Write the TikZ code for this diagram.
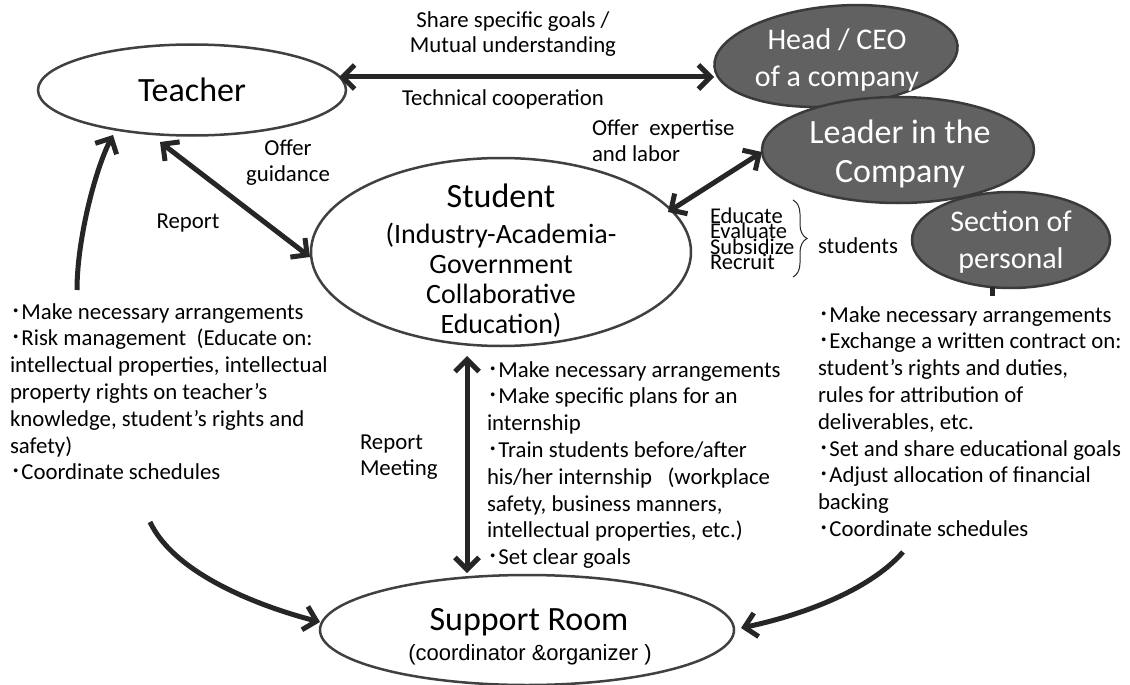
\documentclass[tikz,border=0pt]{standalone}
\usepackage{fontspec}
\setmainfont{Carlito}
\newfontfamily\arialf{Liberation Sans}
\newfontfamily\cjk{Noto Sans CJK JP}
\usetikzlibrary{shapes.geometric,arrows.meta,calc,decorations.pathreplacing}
\definecolor{arrowc}{HTML}{262626}
\definecolor{edgec}{HTML}{404040}
\definecolor{darkfill}{HTML}{616161}
\definecolor{darkedge}{HTML}{3A3A3A}
\newcommand\bul{{\cjk ･}}
\newcommand\tightls{\lineskiplimit -50pt\relax}
\begin{document}
\begin{tikzpicture}[x=1pt,y=-1pt,
  every node/.style={inner sep=0pt, outer sep=0pt},
  wellipse/.style={ellipse, draw=edgec, line width=2.5pt, fill=white},
  dellipse/.style={ellipse, draw=darkedge, line width=2.5pt, fill=darkfill},
  conn/.style={draw=arrowc, line width=5pt, {Straight Barb[length=12pt,width=24pt]}-{Straight Barb[length=12pt,width=24pt]}},
  oneway/.style={draw=arrowc, line width=5pt, -{Straight Barb[length=12pt,width=24pt]}},
  body/.style={font=\fontsize{22.8}{26.8}\selectfont, align=left, anchor=base west},
  lab/.style={font=\fontsize{22.8}{26.8}\selectfont},
  bigtext/.style={font=\fontsize{34}{40}\selectfont},
  dtext/.style={font=\fontsize{30}{37}\selectfont, text=white, align=center, anchor=base},
]
\useasboundingbox (0,0) rectangle (1130,685);

% white ellipses
\node[wellipse, minimum width=308pt, minimum height=91pt] (teacher) at (192,90) {};
\node[bigtext, anchor=base] (teachert) at (192,102) {Teacher};

\node[wellipse, minimum width=380pt, minimum height=188pt] (student) at (501,252) {};
\node[bigtext, anchor=base] (studentt) at (501,207) {Student};
\node[font=\fontsize{28}{30}\selectfont, align=center, anchor=base] (studentsub) at (501,333)
  {(Industry-Academia-\\Government\\Collaborative\\Education)};

\node[wellipse, minimum width=414pt, minimum height=110pt] (support) at (527,630) {};
\node[bigtext, anchor=base] (supportt) at (529,630) {Support Room};
\node[font=\arialf\fontsize{22}{26}\selectfont, anchor=base] (supports) at (530,660) {(coordinator \&organizer )};

% dark ellipses
\node[dellipse, minimum width=244pt, minimum height=100pt, rotate=5] (ceo) at (836,56) {};
\node[dtext] (ceot) at (837,87) {Head / CEO\\of a company};
\node[dellipse, minimum width=272pt, minimum height=106pt] (leader) at (898,150) {};
\node[dtext, font=\fontsize{34}{39}\selectfont] (leadert) at (900,182) {Leader in the\\Company};
\node[dellipse, minimum width=198pt, minimum height=96pt] (section) at (1011,240) {};
\node[dtext] (sectiont) at (1011,268) {Section of\\personal};

% labels
\node[lab, font=\fontsize{22.8}{25}\selectfont, align=center, anchor=base] (share) at (513,53) {Share specific goals /\\Mutual understanding};
\node[lab, anchor=base] (tech) at (503,105) {Technical cooperation};
\node[lab, align=left, anchor=base west] (offerexp) at (592,161.8) {Offer\ \ expertise\\and labor};
\node[lab, align=center, anchor=base] (offerg) at (288,181.8) {Offer\\guidance};
\node[lab, anchor=base] (report) at (188,228) {Report};
\node[lab, align=left, anchor=base west] (repmeet) at (360,475.8) {Report\\Meeting};
\node[font={\fontsize{22.5}{15.5}\selectfont\tightls}, align=left, anchor=base west] (edu) at (710,269.5)
  {Educate\\Evaluate\\Subsidize\\Recruit};
\node[lab, anchor=base west] (studs) at (818,253) {students};
\draw[decorate, decoration={brace, mirror, amplitude=14pt}, draw=black!85, line width=1pt] (793,277) -- (793,200);

% text blocks
\node[body] (leftblk) at (10,479.8) {\bul Make necessary arrangements\\\bul Risk management\ \ (Educate on:\\intellectual properties, intellectual\\property rights on teacher’s\\knowledge, student’s rights and\\safety)\\\bul Coordinate schedules};
\node[body] (midblk) at (487,564.6) {\bul Make necessary arrangements\\\bul Make specific plans for an\\internship\\\bul Train students before/after\\his/her internship\ \ \ (workplace\\safety, business manners,\\intellectual properties, etc.)\\\bul Set clear goals};
\node[body] (rightblk) at (818,536.4) {\bul Make necessary arrangements\\\bul Exchange a written contract on:\\student’s rights and duties,\\rules for attribution of\\deliverables, etc.\\\bul Set and share educational goals\\\bul Adjust allocation of financial\\backing\\\bul Coordinate schedules};

% connectors
\coordinate (lu) at (77,290);
\coordinate (ll) at (150,522);
\coordinate (rl) at (903,552);
\coordinate (sx) at (992,296);

\draw[conn] ($(teacher)+(147,-13)$) -- ($(ceo)+(-122,21)$);
\draw[conn] ($(teacher)+(-32,52)$) -- ($(student)+(-191,5)$);
\draw[conn] ($(student)+(167,-40)$) -- ($(leader)+(-136,2)$);
\draw[conn] ($(student)+(-34,104)$) -- ($(support)+(-60,-57)$);
\draw[oneway] (lu) .. controls (77,240) and (95,170) .. ($(teacher)+(-79,45)$);
\draw[oneway] (ll) .. controls (175,575) and (262,607) .. ($(support)+(-207,-8)$);
\draw[oneway] (rl) .. controls (868,592) and (798,616) .. ($(support)+(214,-2)$);
\draw[draw=arrowc, line width=5pt] ($(section)+(-19,47)$) -- (sx);
\end{tikzpicture}
\end{document}
